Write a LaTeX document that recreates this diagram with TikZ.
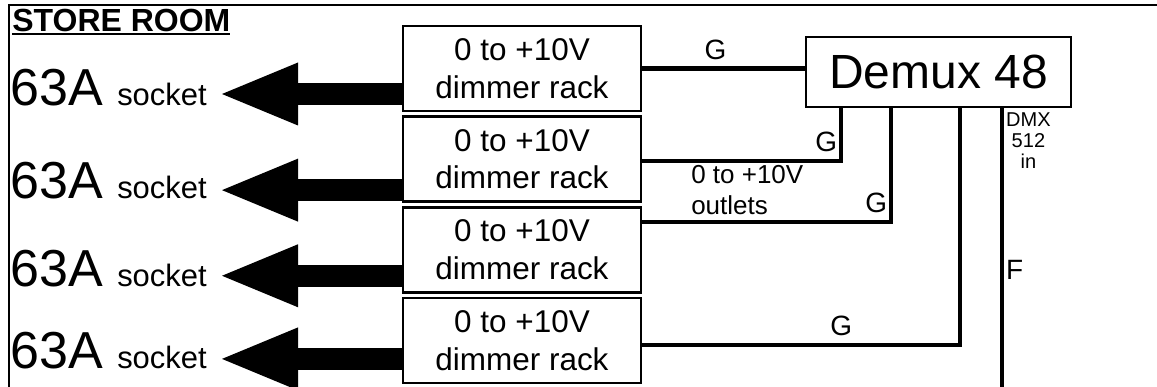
\documentclass[tikz,border=0pt]{standalone}
\usepackage{fontspec}
\setmainfont{Liberation Sans}
\usetikzlibrary{arrows.meta,positioning}
\newcommand{\amps}[1]{{\fontsize{29.6pt}{30pt}\selectfont #1 }}
\newcommand{\ulined}[1]{\setbox0\hbox{#1}\rlap{\rule[-1.7pt]{\wd0}{1.1pt}}\box0}

\begin{document}
\begin{tikzpicture}[
      node distance=0.06cm,
      rack/.style={rectangle, draw, line width=1.5pt, minimum width=4.76cm,
                   minimum height=1.70cm, align=center,
                   font=\fontsize{17.9pt}{21.5pt}\selectfont},
      mux/.style={rectangle, draw, line width=1.5pt, minimum width=5.3cm,
                  minimum height=1.4cm, font=\fontsize{27.3pt}{30pt}\selectfont},
      socket/.style={inner xsep=0.3cm, inner ysep=0pt,
                     font=\fontsize{17.6pt}{18pt}\selectfont},
      wire/.style={line width=2.5pt},
      power/.style={line width=12.5pt,
                    -{Triangle[length=1.52cm, width=1.26cm, line width=0pt]}},
      glabel/.style={font=\fontsize{15.9pt}{16pt}\selectfont,
                     inner xsep=0.04cm, inner ysep=0.14cm},
      note/.style={align=left, inner sep=0.04cm,
                   font=\fontsize{14.8pt}{17.6pt}\selectfont},
      dmxnote/.style={align=center, inner sep=0.04cm,
                      font=\fontsize{11.4pt}{12pt}\selectfont},
    ]
    \useasboundingbox (0,0) rectangle (23.14,-7.74);

    % Room frame and title
    \draw[line width=1.1pt] (0.18,-7.74) |- (23.14,-0.1);
    \node[anchor=base west, inner sep=0pt,
          font=\fontsize{18.2pt}{20pt}\selectfont\bfseries] (title)
          at (0.24,-0.64) {\ulined{STORE ROOM}};

    % Stack of dimmer racks
    \node[rack] (rack1) at (10.44,-1.37) {0 to +10V \\ dimmer rack};
    \node[rack, below=of rack1] (rack2) {0 to +10V \\ dimmer rack};
    \node[rack, below=of rack2] (rack3) {0 to +10V \\ dimmer rack};
    \node[rack, below=of rack3] (rack4) {0 to +10V \\ dimmer rack};

    % Demultiplexer
    \node[mux] (demux) at (18.77,-1.44) {Demux 48};
    \coordinate (dmxin) at (20.04,-7.74);

    % Sockets on the left
    \node[socket, anchor=base east] (sock1) at (4.44,-2.12) {\amps{63A}socket};
    \node[socket, anchor=base east] (sock2) at (4.44,-3.98) {\amps{63A}socket};
    \node[socket, anchor=base east] (sock3) at (4.44,-5.74) {\amps{63A}socket};
    \node[socket, anchor=base east] (sock4) at (4.44,-7.36) {\amps{63A}socket};

    \draw[power] ([yshift=-0.51cm]rack1.west) -- ([yshift=-0.51cm]rack1.west -| sock1.east);
    \draw[power] ([yshift=-0.62cm]rack2.west) -- ([yshift=-0.62cm]rack2.west -| sock2.east);
    \draw[power] ([yshift=-0.52cm]rack3.west) -- ([yshift=-0.52cm]rack3.west -| sock3.east);
    \draw[power] ([yshift=-0.37cm]rack4.west) -- ([yshift=-0.37cm]rack4.west -| sock4.east);

    % Control lines from the demux
    \draw[wire] (rack1.east) -- (rack1.east -| demux.west)
      node[glabel, pos=0.45, above] {G};
    \draw[wire] ([yshift=-0.04cm]rack2.east) -| ([xshift=0.73cm]demux.south west)
      node[glabel, pos=0.5, anchor=south east] {G}
      node[note, pos=0.1125, anchor=north west] {0 to +10V\\outlets};
    \draw[wire] ([yshift=0.556cm]rack3.east) -| ([xshift=1.73cm]demux.south west)
      node[glabel, pos=0.5, anchor=south east] {G};
    \draw[wire] ([yshift=-0.09cm]rack4.east) -| ([xshift=3.11cm]demux.south west)
      node[glabel, pos=0.313, above] {G};

    % DMX feed
    \draw[wire] (demux.south -| dmxin) -- (dmxin)
      node[dmxnote, pos=0, anchor=north west] {DMX\\512\\in}
      node[glabel, pos=0.58, right] {F};
  \end{tikzpicture}
\end{document}
